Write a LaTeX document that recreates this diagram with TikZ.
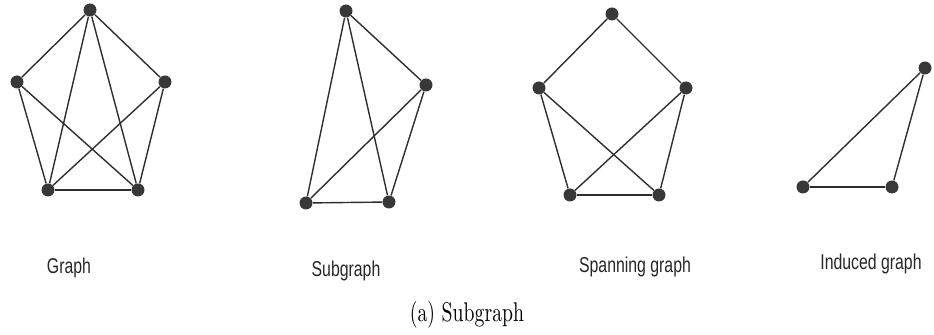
\documentclass[tikz,border=0pt]{standalone}
\usepackage{graphicx}
\usepackage{fontspec}
\newfontfamily\labelfont{Liberation Sans}
\usepackage{tikz}
\usetikzlibrary{positioning}

\newcommand{\tallsans}[1]{\scalebox{0.9}[1.22]{\labelfont\fontsize{8.8}{10}\selectfont #1}}

\begin{document}
\begin{tikzpicture}[
    x=0.5pt, y=-0.5pt,
    vtx/.style={
        circle,
        fill=black!78,
        minimum size=6.5pt,
        inner sep=0pt
    },
    edge/.style={
        draw=black!82,
        line width=0.7pt
    },
    lbl/.style={
        text=black!85,
        inner sep=0pt
    }
]

\useasboundingbox (0,0) rectangle (934,335);

% Graph
\node[vtx] (gt) at (90,10) {};
\node[vtx] (gl) at (17,82) {};
\node[vtx] (gr) at (165,82) {};
\node[vtx] (gbl) at (48,190) {};
\node[vtx] (gbr) at (138,190) {};

\draw[edge] (gt) -- (gl);
\draw[edge] (gt) -- (gr);
\draw[edge] (gt) -- (gbl);
\draw[edge] (gt) -- (gbr);
\draw[edge] (gl) -- (gbl);
\draw[edge] (gl) -- (gbr);
\draw[edge] (gr) -- (gbl);
\draw[edge] (gr) -- (gbr);
\draw[edge] (gbl) -- (gbr);

% Subgraph
\node[vtx] (st) at (346,11) {};
\node[vtx] (sr) at (426,85) {};
\node[vtx] (sbl) at (306,203) {};
\node[vtx] (sbr) at (389,202) {};

\draw[edge] (st) -- (sr);
\draw[edge] (st) -- (sbl);
\draw[edge] (st) -- (sbr);
\draw[edge] (sr) -- (sbl);
\draw[edge] (sr) -- (sbr);
\draw[edge] (sbl) -- (sbr);

% Spanning graph
\node[vtx] (pt) at (612,14) {};
\node[vtx] (pl) at (539,88) {};
\node[vtx] (pr) at (686,88) {};
\node[vtx] (pbl) at (570,195) {};
\node[vtx] (pbr) at (659,195) {};

\draw[edge] (pt) -- (pl);
\draw[edge] (pt) -- (pr);
\draw[edge] (pl) -- (pbl);
\draw[edge] (pl) -- (pbr);
\draw[edge] (pr) -- (pbl);
\draw[edge] (pr) -- (pbr);
\draw[edge] (pbl) -- (pbr);

% Induced graph
\node[vtx] (ir) at (925,68) {};
\node[vtx] (ibl) at (803,187) {};
\node[vtx] (ibr) at (892,187) {};

\draw[edge] (ir) -- (ibl);
\draw[edge] (ir) -- (ibr);
\draw[edge] (ibl) -- (ibr);

% labels
\node[lbl] (glbl) at (69,268) {\tallsans{Graph}};
\node[lbl] (slbl) at (346,271) {\tallsans{Subgraph}};
\node[lbl] (plbl) at (635,267) {\tallsans{Spanning graph}};
\node[lbl] (ilbl) at (871,264) {\tallsans{Induced graph}};

\node[inner sep=0pt] (cap) at (467,315) {\scalebox{0.95}[1.3]{\fontsize{10.4}{12}\selectfont (a) Subgraph}};

\end{tikzpicture}
\end{document}
